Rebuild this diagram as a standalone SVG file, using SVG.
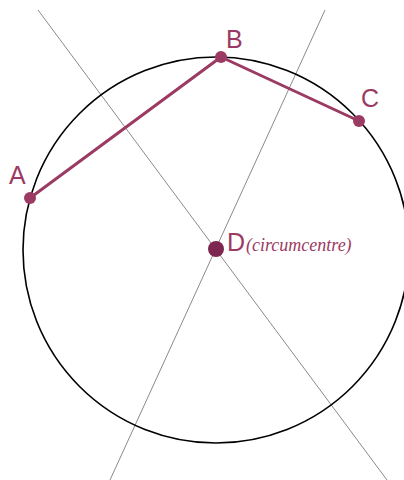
<svg xmlns="http://www.w3.org/2000/svg" width="404" height="480" viewBox="0 0 404 480">
<style>
.bis{stroke:#8a8a8a;stroke-width:1;fill:none}
.seg{stroke:#9b3a63;stroke-width:3;fill:none;stroke-linecap:round;stroke-linejoin:round}
.pt{fill:#9b3a63}
.lbl{font-family:"Liberation Sans",Arial,sans-serif;font-size:25px;fill:#9b3a63}
.note{font-family:"Liberation Serif","Times New Roman",serif;font-style:italic;font-size:18px;fill:#9b3a63}
</style>
<rect width="404" height="480" fill="#fff"/>
<g id="connectors">
<line class="bis" x1="38" y1="10" x2="387" y2="480"/>
<line class="bis" x1="325" y1="10" x2="110" y2="480"/>
<circle cx="216" cy="250" r="193" fill="none" stroke="#000" stroke-width="1.6"/>
<polyline class="seg" points="30,198 221,57 359,121"/>
</g>
<g id="A"><circle class="pt" cx="30" cy="198" r="6"/><text class="lbl" x="9" y="184">A</text></g>
<g id="B"><circle class="pt" cx="221" cy="57" r="6"/><text class="lbl" x="226" y="48">B</text></g>
<g id="C"><circle class="pt" cx="359" cy="121" r="6"/><text class="lbl" x="361" y="107">C</text></g>
<g id="D"><circle cx="216" cy="249" r="8" fill="#7d2750"/><text class="lbl" x="227" y="251">D</text><text class="note" x="246" y="251">(circumcentre)</text></g>
</svg>
